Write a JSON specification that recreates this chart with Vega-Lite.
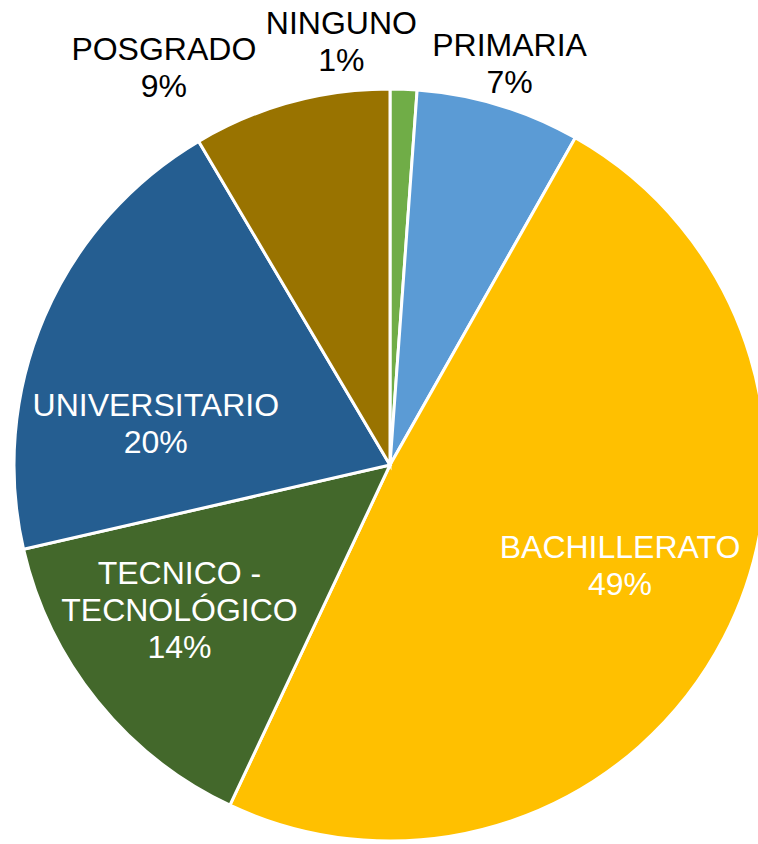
{
  "$schema": "https://vega.github.io/schema/vega-lite/v6.json",
  "width": 736,
  "height": 758,
  "autosize": {"type": "none"},
  "padding": {"left": 22, "top": 86, "right": 0, "bottom": 0},
  "background": "white",
  "view": {"stroke": null},
  "data": {
    "values": [
      {"cat": "NINGUNO", "value": 1.15, "label": "NINGUNO\n1%", "ord": 1},
      {"cat": "PRIMARIA", "value": 7.05, "label": "PRIMARIA\n7%", "ord": 2},
      {"cat": "BACHILLERATO", "value": 48.8, "label": "BACHILLERATO\n49%", "ord": 3},
      {"cat": "TECNICO - TECNOLÓGICO", "value": 14.4, "label": "TECNICO -\nTECNOLÓGICO\n14%", "ord": 4},
      {"cat": "UNIVERSITARIO", "value": 20.1, "label": "UNIVERSITARIO\n20%", "ord": 5},
      {"cat": "POSGRADO", "value": 8.5, "label": "POSGRADO\n9%", "ord": 6}
    ]
  },
  "encoding": {
    "theta": {"field": "value", "type": "quantitative", "stack": true},
    "order": {"field": "ord", "type": "quantitative"}
  },
  "layer": [
    {
      "mark": {"type": "arc", "outerRadius": 376, "stroke": "white", "strokeWidth": 3},
      "encoding": {
        "color": {
          "field": "cat",
          "type": "nominal",
          "scale": {
            "domain": ["NINGUNO", "PRIMARIA", "BACHILLERATO", "TECNICO - TECNOLÓGICO", "UNIVERSITARIO", "POSGRADO"],
            "range": ["#70AD47", "#5B9BD5", "#FFC000", "#43682B", "#255E91", "#997300"]
          },
          "legend": null
        }
      }
    },
    {
      "mark": {"type": "text", "radius": 424, "dx": -64, "dy": -17, "font": "Liberation Sans", "fontSize": 32, "lineBreak": "\n", "lineHeight": 37, "color": "black", "align": "center", "baseline": "middle"},
      "encoding": {"text": {"condition": {"test": "datum.cat === 'NINGUNO'", "field": "label"}, "value": ""}}
    },
    {
      "mark": {"type": "text", "radius": 420, "dx": -2, "dy": -17, "font": "Liberation Sans", "fontSize": 32, "lineBreak": "\n", "lineHeight": 37, "color": "black", "align": "center", "baseline": "middle"},
      "encoding": {"text": {"condition": {"test": "datum.cat === 'PRIMARIA'", "field": "label"}, "value": ""}}
    },
    {
      "mark": {"type": "text", "radius": 250, "dx": 8, "dy": -32, "font": "Liberation Sans", "fontSize": 32, "lineBreak": "\n", "lineHeight": 37, "color": "white", "align": "center", "baseline": "middle"},
      "encoding": {"text": {"condition": {"test": "datum.cat === 'BACHILLERATO'", "field": "label"}, "value": ""}}
    },
    {
      "mark": {"type": "text", "radius": 255, "dx": -12, "dy": -51, "font": "Liberation Sans", "fontSize": 32, "lineBreak": "\n", "lineHeight": 37, "color": "white", "align": "center", "baseline": "middle"},
      "encoding": {"text": {"condition": {"test": "datum.cat === 'TECNICO - TECNOLÓGICO'", "field": "label"}, "value": ""}}
    },
    {
      "mark": {"type": "text", "radius": 232, "dx": -21, "dy": 32, "font": "Liberation Sans", "fontSize": 32, "lineBreak": "\n", "lineHeight": 37, "color": "white", "align": "center", "baseline": "middle"},
      "encoding": {"text": {"condition": {"test": "datum.cat === 'UNIVERSITARIO'", "field": "label"}, "value": ""}}
    },
    {
      "mark": {"type": "text", "radius": 444, "dx": -109, "dy": 13, "font": "Liberation Sans", "fontSize": 32, "lineBreak": "\n", "lineHeight": 37, "color": "black", "align": "center", "baseline": "middle"},
      "encoding": {"text": {"condition": {"test": "datum.cat === 'POSGRADO'", "field": "label"}, "value": ""}}
    }
  ]
}
